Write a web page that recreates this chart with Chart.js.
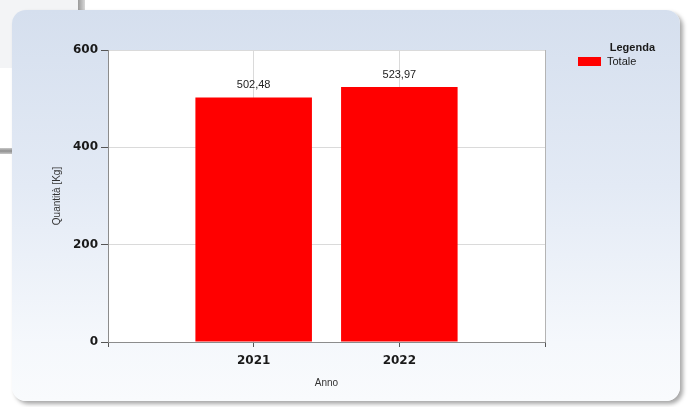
<!DOCTYPE html>
<html>
<head>
<meta charset="utf-8">
<script src="https://cdn.jsdelivr.net/npm/chart.js@4"></script>
<style>
  html, body { margin: 0; padding: 0; background: #ffffff; }
  #wrap { position: relative; width: 691px; height: 407px; overflow: hidden; }
  #oldwin { position: absolute; left: 0; top: 0; width: 78px; height: 68px; background: #f3f4f6; }
  #oldshadow { position: absolute; left: 78px; top: 0; width: 7px; height: 15px; background: linear-gradient(to right, #9a9a9a, #d8d8d8); }
  #oldbar { position: absolute; left: 0; top: 148px; width: 12px; height: 6px; background: linear-gradient(#c8c8c8, #8f8f8f, #c8c8c8); }
  #panel {
    position: absolute; left: 12px; top: 10px; width: 668px; height: 391px;
    border-radius: 14px;
    background: linear-gradient(to bottom, #d5dfee 0%, #e3eaf5 45%, #f5f8fc 85%, #f9fbfd 100%);
    box-shadow: 3px 3px 4px rgba(0,0,0,0.35);
  }
  #chart { position: absolute; left: 0; top: 0; }
  #legend { position: absolute; left: 574px; top: 41px; font-family: "Liberation Sans", Arial, sans-serif; font-size: 11px; color: #1a1a1a; }
  #legend .title { font-weight: bold; text-align: right; width: 81px; margin-bottom: 2px; }
  #legend .item { display: flex; align-items: center; margin-left: 4px; }
  #legend .sw { width: 23px; height: 9px; margin-right: 6px; }
</style>
</head>
<body>
<div id="wrap">
  <div id="oldwin"></div>
  <div id="oldshadow"></div>
  <div id="oldbar"></div>
  <div id="panel"></div>
  <canvas id="chart" width="691" height="407"></canvas>
  <div id="legend"></div>
</div>
<script>
// dati
const categories = ["", "2021", "2022", ""];
const seriesName = "Totale";
const values = [null, 502.48, 523.97, null];
const yTicks = [0, 200, 400, 600];
const legendTitle = "Legenda";
const xTitle = "Anno";
const yTitle = "Quantità [Kg]";

const barColor = "#ff0000";

// sfondo bianco dell'area del grafico
const plotBg = {
  id: "plotBg",
  beforeDraw(chart) {
    const { ctx, chartArea: a } = chart;
    ctx.save();
    ctx.fillStyle = "#ffffff";
    ctx.fillRect(a.left, a.top, a.right - a.left, a.bottom - a.top);
    ctx.restore();
  }
};

// etichette sopra le barre
const valueLabels = {
  id: "valueLabels",
  afterDatasetsDraw(chart) {
    const ctx = chart.ctx;
    const meta = chart.getDatasetMeta(0);
    ctx.save();
    ctx.font = "11px 'Liberation Sans', Arial, sans-serif";
    ctx.fillStyle = "#222";
    ctx.textAlign = "center";
    ctx.textBaseline = "middle";
    meta.data.forEach((bar, i) => {
      const v = values[i];
      if (v == null) return;
      ctx.fillText(v.toFixed(2).replace(".", ","), bar.x, bar.y - 12);
    });
    ctx.restore();
  }
};

const ctx = document.getElementById("chart").getContext("2d");
new Chart(ctx, {
  type: "bar",
  data: {
    labels: categories,
    datasets: [{
      label: seriesName,
      data: values,
      backgroundColor: barColor,
      categoryPercentage: 1,
      barPercentage: 0.8
    }]
  },
  options: {
    responsive: false,
    animation: false,
    layout: { padding: { left: 51, top: 50, right: 146, bottom: 18 } },
    plugins: {
      legend: { display: false },
      tooltip: { enabled: false }
    },
    scales: {
      x: {
        offset: false,
        grid: {
          offset: false,
          color: (c) => (c.index === 3 ? "#b4b4b4" : "#dadada"),
          tickColor: "#555",
          tickLength: 5
        },
        border: { color: "#8c8c8c" },
        ticks: {
          color: "#1a1a1a",
          padding: 7,
          maxRotation: 0,
          autoSkip: false,
          font: { family: "'DejaVu Sans', Verdana, sans-serif", size: 12, weight: "bold" }
        },
        title: {
          display: true,
          text: xTitle,
          color: "#333",
          padding: 0,
          font: { family: "'Liberation Sans', Arial, sans-serif", size: 10 }
        },
        afterFit(scale) { scale.height = 47; }
      },
      y: {
        min: 0,
        max: 600,
        afterBuildTicks(scale) { scale.ticks = yTicks.map(v => ({ value: v })); },
        grid: {
          color: "#dadada",
          tickColor: "#555",
          tickLength: 7
        },
        border: { color: "#8c8c8c" },
        ticks: {
          color: "#1a1a1a",
          padding: 3,
          font: { family: "'DejaVu Sans', Verdana, sans-serif", size: 12, weight: "bold" }
        },
        title: {
          display: true,
          text: yTitle,
          color: "#333",
          padding: 0,
          font: { family: "'Liberation Sans', Arial, sans-serif", size: 10 }
        },
        afterFit(scale) { scale.width = 57; }
      }
    }
  },
  plugins: [plotBg, valueLabels]
});

// legenda html
document.getElementById("legend").innerHTML =
  `<div class="title">${legendTitle}</div>` +
  `<div class="item"><span class="sw" style="background:${barColor}"></span>${seriesName}</div>`;
</script>
</body>
</html>
